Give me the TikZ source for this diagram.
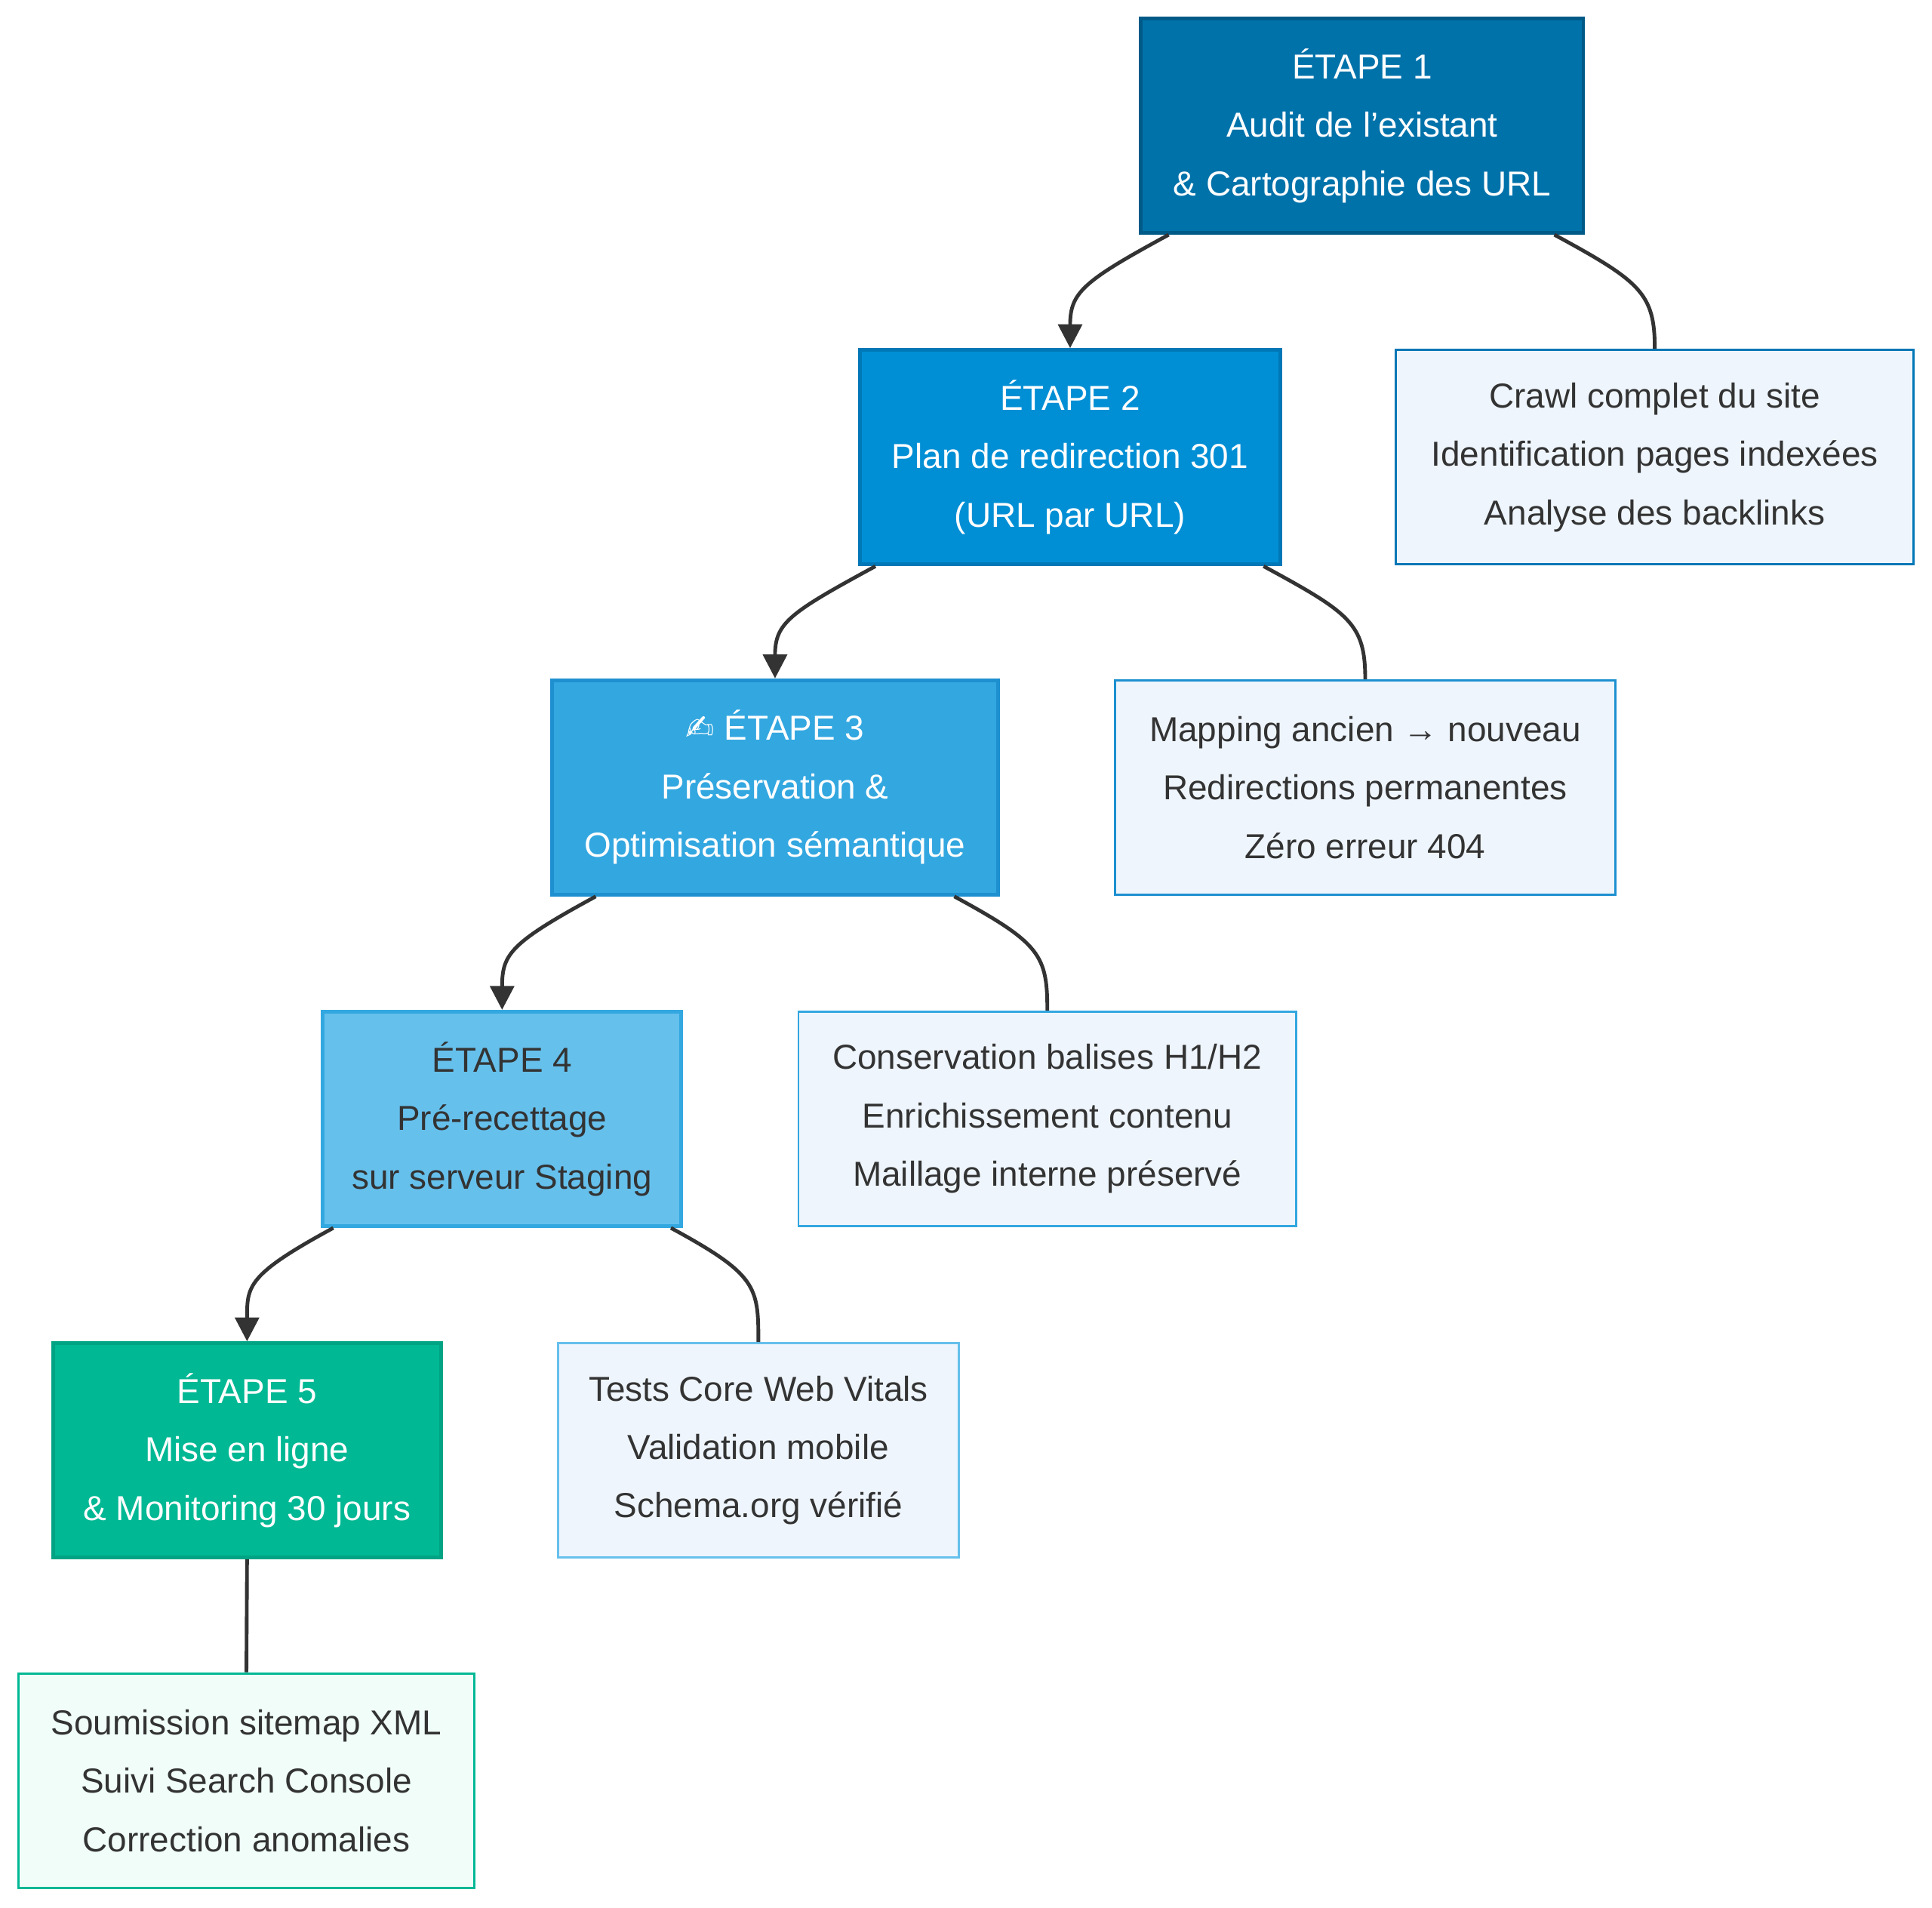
\documentclass[tikz,border=0pt]{standalone}
\usepackage{fontspec}
\setmainfont{Liberation Sans}
\newfontfamily\symfont{DejaVu Sans}
\usetikzlibrary{calc,arrows.meta,positioning}

\definecolor{stepa}{HTML}{0072AA}\definecolor{stepaline}{HTML}{005A87}
\definecolor{stepb}{HTML}{008FD5}\definecolor{stepbline}{HTML}{0077B6}
\definecolor{stepc}{HTML}{33A7E0}\definecolor{stepcline}{HTML}{1E90D0}
\definecolor{stepd}{HTML}{66C0EC}\definecolor{stepdline}{HTML}{33A7E0}
\definecolor{stepe}{HTML}{00B894}\definecolor{stepeline}{HTML}{00A383}
\definecolor{notefill}{HTML}{EEF5FC}\definecolor{notegreen}{HTML}{F0FDF9}
\definecolor{wire}{HTML}{333333}

\begin{document}
\begin{tikzpicture}
    [x=0.02cm, y=-0.02cm,
    etape/.style={draw, line width=1.7pt, align=center, inner sep=0pt,
        font=\fontsize{16}{27}\selectfont, text=white},
    note/.style={draw, line width=1pt, fill=notefill, align=center, inner sep=0pt,
        font=\fontsize{16}{27}\selectfont, text=wire},
    flow/.style={line width=1.7pt, draw=wire, -{Triangle[length=11pt,width=11pt]}},
    link/.style={line width=1.7pt, draw=wire}]
    \useasboundingbox (0,0) rectangle (1568,1548);
    % les étapes
    \node[etape, fill=stepa, draw=stepaline, minimum width=359*0.02cm, minimum height=174*0.02cm]
        (e1) at (1105.5,102) {ÉTAPE 1\\Audit de l'existant\\\& Cartographie des URL};
    \node[etape, fill=stepb, draw=stepbline, minimum width=341*0.02cm, minimum height=174*0.02cm]
        (e2) at (868.5,371) {ÉTAPE 2\\Plan de redirection 301\\(URL par URL)};
    \node[etape, fill=stepc, draw=stepcline, minimum width=362*0.02cm, minimum height=174*0.02cm]
        (e3) at (629,639) {{\symfont ✍} ÉTAPE 3\\Préservation \&\\Optimisation sémantique};
    \node[etape, fill=stepd, draw=stepdline, text=wire, minimum width=291*0.02cm, minimum height=174*0.02cm]
        (e4) at (407.5,908) {ÉTAPE 4\\Pré-recettage\\sur serveur Staging};
    \node[etape, fill=stepe, draw=stepeline, minimum width=315*0.02cm, minimum height=174*0.02cm]
        (e5) at (200.5,1177) {ÉTAPE 5\\Mise en ligne\\\& Monitoring 30 jours};
    % les détails
    \node[note, draw=stepbline, minimum width=420*0.02cm, minimum height=174*0.02cm]
        (d1) at (1343,371) {Crawl complet du site\\Identification pages indexées\\Analyse des backlinks};
    \node[note, draw=stepcline, minimum width=406*0.02cm, minimum height=174*0.02cm]
        (d2) at (1108,639) {Mapping ancien → nouveau\\Redirections permanentes\\Zéro erreur 404};
    \node[note, draw=stepdline, minimum width=404*0.02cm, minimum height=174*0.02cm]
        (d3) at (850,908) {Conservation balises H1/H2\\Enrichissement contenu\\Maillage interne préservé};
    \node[note, draw=stepd, minimum width=325*0.02cm, minimum height=174*0.02cm]
        (d4) at (615.5,1177) {Tests Core Web Vitals\\Validation mobile\\Schema.org vérifié};
    \node[note, fill=notegreen, draw=stepe, minimum width=370*0.02cm, minimum height=174*0.02cm]
        (d5) at (200,1445) {Soumission sitemap XML\\Suivi Search Console\\Correction anomalies};
    % les liaisons
    \draw[flow] ($(e1.south west)+(24,0)$) .. controls +(-70,38) and +(0,-45) .. (e2.north);
    \draw[link] ($(e1.south east)+(-25,0)$) .. controls +(70,38) and +(0,-45) .. (d1.north);
    \draw[flow] ($(e2.south west)+(14,0)$) .. controls +(-70,38) and +(0,-45) .. (e3.north);
    \draw[link] ($(e2.south east)+(-15,0)$) .. controls +(70,38) and +(0,-45) .. (d2.north);
    \draw[flow] ($(e3.south west)+(37,0)$) .. controls +(-70,38) and +(0,-45) .. (e4.north);
    \draw[link] ($(e3.south east)+(-37,0)$) .. controls +(70,38) and +(0,-45) .. (d3.north);
    \draw[flow] ($(e4.south west)+(10,0)$) .. controls +(-70,38) and +(0,-45) .. (e5.north);
    \draw[link] ($(e4.south east)+(-10,0)$) .. controls +(70,38) and +(0,-45) .. (d4.north);
    \draw[link] (e5.south) -- (d5.north);
\end{tikzpicture}
\end{document}
